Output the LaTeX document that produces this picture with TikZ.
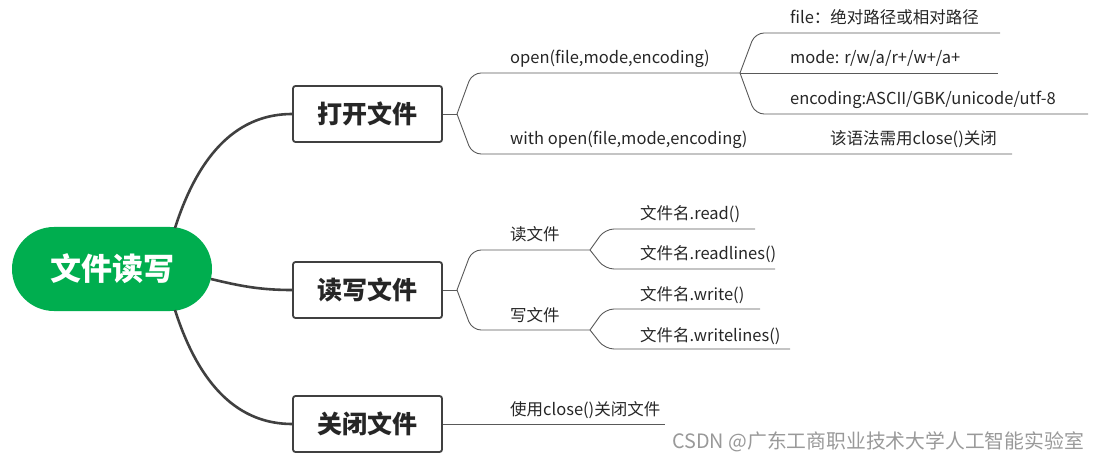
\documentclass[tikz,border=0pt]{standalone}
\usepackage{fontspec}
\setmainfont{Noto Sans CJK SC}
\begin{document}
\begin{tikzpicture}[x=1pt,y=-1pt,
  thin/.style={draw=black!65,line width=0.9pt,rounded corners=9},
  thick/.style={draw=black!75,line width=2.6pt},
  box/.style={draw=black!75,line width=1.8pt,rounded corners=2.5pt,minimum width=149pt,minimum height=56pt,font=\fontsize{25}{25}\selectfont\bfseries,text=black!85,inner sep=0pt},
  lbl/.style={anchor=base west,font=\fontsize{16.5}{16.5}\selectfont,text=black!85,inner sep=0pt}]
\useasboundingbox (0,0) rectangle (1097,462);
\node[fill={rgb,255:red,0;green,174;blue,79},rounded corners=42pt,minimum width=200pt,minimum height=84pt,text=white,font=\fontsize{31}{31}\selectfont\bfseries,inner sep=0pt] (root) at (112,269) {文件读写};
\node[box] (b1) at (367.5,114) {打开文件};
\node[box] (b2) at (367.5,290) {读写文件};
\node[box] (b3) at (367.5,424) {关闭文件};
\draw[thick] (175,228) .. controls (200,150) and (240,114) .. (b1.west);
\draw[thick] (211,279) .. controls (240,286) and (260,290) .. (b2.west);
\draw[thick] (175,310) .. controls (200,388) and (240,424) .. (b3.west);
% open branch
\coordinate (s1) at (457,114);
\coordinate (p1) at (740,73);
\draw[thin] (b1.east) -- (s1);
\draw[thin] (s1) -- (472,73) -- (p1);
\draw[thin] (s1) -- (472,154) -- (1012,154);
\node[lbl] (t1) at (510,64) {open(file,mode,encoding)};
\node[lbl] (t2) at (510,145) {with open(file,mode,encoding)};
\node[lbl] (t3) at (830,145) {该语法需用close()关闭};
\draw[thin] (p1) -- (755,33) -- (1000,33);
\draw[thin] (p1) -- (998,73);
\draw[thin] (p1) -- (755,114) -- (1088,114);
\node[lbl] at (790,24) {file：绝对路径或相对路径};
\node[lbl] at (790,64) {mode: r/w/a/r+/w+/a+};
\node[lbl] at (790,105) {encoding:ASCII/GBK/unicode/utf-8};
% read/write branch
\coordinate (s2) at (457,290);
\coordinate (r) at (590,250);
\coordinate (w) at (590,330);
\draw[thin] (b2.east) -- (s2);
\draw[thin] (s2) -- (472,250) -- (r);
\draw[thin] (s2) -- (472,330) -- (w);
\node[lbl] at (510,241) {读文件};
\node[lbl] at (510,321) {写文件};
\draw[thin] (r) -- (605,229) -- (755,229);
\draw[thin] (r) -- (605,269) -- (775,269);
\draw[thin] (w) -- (605,309) -- (760,309);
\draw[thin] (w) -- (605,349) -- (790,349);
\node[lbl] at (640,220) {文件名.read()};
\node[lbl] at (640,260) {文件名.readlines()};
\node[lbl] at (640,301) {文件名.write()};
\node[lbl] at (640,341) {文件名.writelines()};
% close
\coordinate (c) at (665,424);
\draw[thin] (b3.east) -- (c);
\node[lbl] at (510,415) {使用close()关闭文件};
\node[lbl,text=black!40,font=\fontsize{19.8}{19.8}\selectfont] at (672,448) {CSDN @广东工商职业技术大学人工智能实验室};
\end{tikzpicture}
\end{document}
